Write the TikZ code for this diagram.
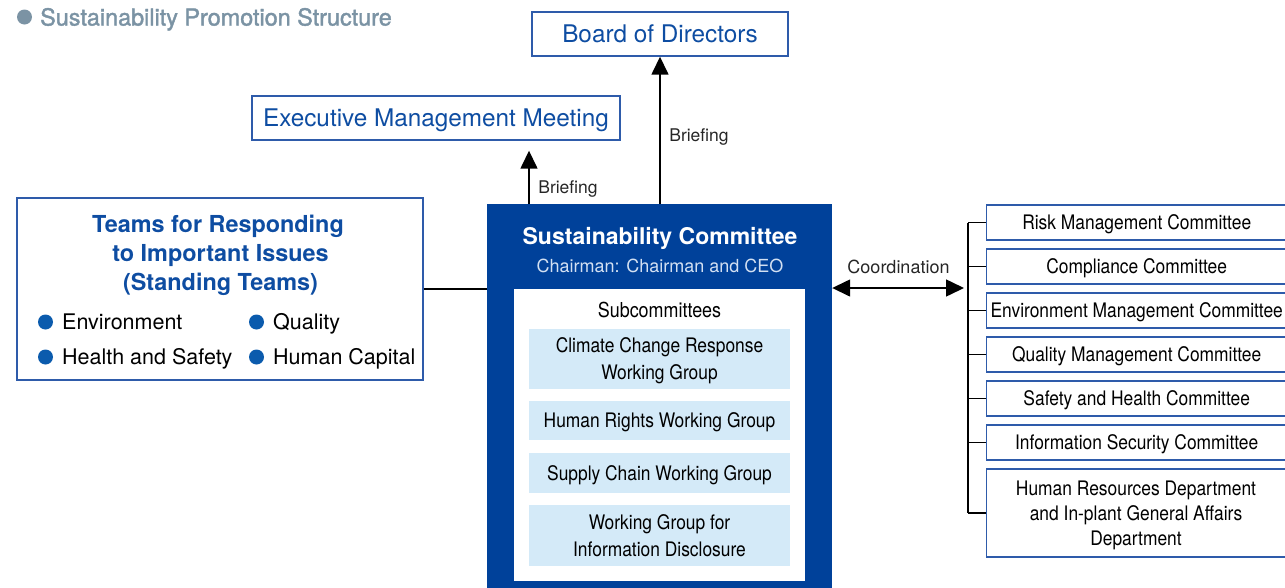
\documentclass[tikz,border=0pt]{standalone}
\usepackage{fontspec}
\setmainfont{TeX Gyre Heros}
\newfontfamily\cond[FakeStretch=0.87]{TeX Gyre Heros}
\newfontfamily\titlefont[FakeBold=1.6]{TeX Gyre Heros}
\usetikzlibrary{arrows.meta}
\definecolor{titlegray}{HTML}{7B93A4}
\definecolor{navy}{HTML}{00419A}
\definecolor{textblue}{HTML}{0E4DA2}
\definecolor{boxblue}{HTML}{2E5BAA}
\definecolor{paleblue}{HTML}{D4EAF8}
\definecolor{dotblue}{HTML}{0B5BAD}
\definecolor{subwhite}{HTML}{D3E0F2}
\begin{document}
\begin{tikzpicture}[x=1pt,y=-1pt,
  capc/.style={text height=#1,text depth=0pt,inner sep=0pt},
  topbox/.style={draw=boxblue,line width=1.4pt,fill=white,text=textblue,
    font=\fontsize{24.3pt}{28pt}\selectfont,capc=17.5pt},
  rbox/.style={draw=boxblue,line width=1.4pt,fill=white,anchor=west,
    minimum width=300pt,minimum height=35pt,font=\cond\fontsize{20pt}{25pt}\selectfont,capc=14.4pt},
  wgbox/.style={fill=paleblue,minimum width=261pt,inner sep=0pt},
  wgtext/.style={align=center,inner sep=0pt,font=\cond\fontsize{20pt}{27pt}\selectfont},
  conn/.style={line width=1.5pt,black},
  arr/.style={conn,-{Triangle[length=18pt,width=17pt]}},
  darr/.style={conn,{Triangle[length=18pt,width=17pt]}-{Triangle[length=18pt,width=17pt]}},
  lbl/.style={capc=12.6pt,font=\fontsize{17.5pt}{20pt}\selectfont,text=black!85},
  item/.style={capc=15.5pt,anchor=west,font=\fontsize{21.5pt}{25pt}\selectfont},
  dot/.style={circle,fill=dotblue,inner sep=0pt,minimum size=15pt}
]
\useasboundingbox (0,0) rectangle (1285,587);
\clip (0,0) rectangle (1285,587);

% title
\node[circle,fill=titlegray,inner sep=0pt,minimum size=15pt] (tdot) at (24.5,17) {};
\node[capc=17pt,anchor=west,text=titlegray,font=\titlefont\fontsize{23.4pt}{26pt}\selectfont] (title) at (40,17) {Sustainability Promotion Structure};

% top boxes
\node[topbox,minimum width=256pt,minimum height=44pt] (bod) at (660,34) {Board of Directors};
\node[topbox,minimum width=368pt,minimum height=44pt] (emm) at (436,118) {Executive Management Meeting};

% teams box
\node[draw=boxblue,line width=1.4pt,minimum width=406pt,minimum height=182pt,inner sep=0pt] (teams) at (220,289) {};
\node[align=center,text=textblue,font=\bfseries\fontsize{23.4pt}{29pt}\selectfont,inner sep=0pt] (teamst) at (218,255) {Teams for Responding\\ \hspace*{5pt}to Important Issues\\ \hspace*{5pt}(Standing Teams)};
\node[dot] (d1) at (45.5,322) {};
\node[dot] (d2) at (256.5,322) {};
\node[dot] (d3) at (45.5,357) {};
\node[dot] (d4) at (256.5,357) {};
\node[item] (i1) at (62,322) {Environment};
\node[item] (i2) at (273,322) {Quality};
\node[item] (i3) at (62,357) {Health and Safety};
\node[item] (i4) at (273,357) {Human Capital};

% sustainability committee
\node[fill=navy,minimum width=345pt,minimum height=400pt,anchor=north,inner sep=0pt] (sc) at (659.5,204) {};
\node[capc=16.5pt,text=white,font=\bfseries\fontsize{23pt}{26pt}\selectfont] (sct) at (660,236) {Sustainability Committee};
\node[capc=12.9pt,text=subwhite,font=\fontsize{18pt}{20pt}\selectfont] (scc) at (660,266) {Chairman: Chairman and CEO};
\node[fill=white,minimum width=291pt,minimum height=292pt,anchor=north,inner sep=0pt] (inner) at (659.5,289) {};
\node[capc=14.8pt,font=\cond\fontsize{20.6pt}{24pt}\selectfont] (subc) at (659.5,310) {Subcommittees};
\node[wgbox,minimum height=60pt] (wg1) at (659.5,359) {};
\node[wgtext] (wg1t) at (659.5,360.5) {Climate Change Response\\Working Group};
\node[wgbox,minimum height=39pt,capc=14.4pt,font=\cond\fontsize{20pt}{24pt}\selectfont] (wg2) at (659.5,420.5) {Human Rights Working Group};
\node[wgbox,minimum height=40pt,capc=14.4pt,font=\cond\fontsize{20pt}{24pt}\selectfont] (wg3) at (659.5,473) {Supply Chain Working Group};
\node[wgbox,minimum height=61pt] (wg4) at (659.5,535.5) {};
\node[wgtext] (wg4t) at (659.5,535.5) {Working Group for\\Information Disclosure};

% right boxes
\node[rbox] (r1) at (986,222.5) {Risk Management Committee};
\node[rbox] (r2) at (986,266.5) {Compliance Committee};
\node[rbox] (r3) at (986,310.5) {Environment Management Committee};
\node[rbox] (r4) at (986,354.5) {Quality Management Committee};
\node[rbox] (r5) at (986,398.5) {Safety and Health Committee};
\node[rbox] (r6) at (986,442.5) {Information Security Committee};
\node[rbox,minimum height=88pt] (r7) at (986,513) {};
\node[align=center,inner sep=0pt,font=\cond\fontsize{20pt}{25pt}\selectfont] (r7t) at (1136,515.5) {Human Resources Department\\and In-plant General Affairs\\Department};

% connectors
\draw[conn] (teams.east) -- (teams.east -| sc.west);
\coordinate (ea) at (529,0);
\draw[arr,shorten >=10pt] (ea |- sc.north) -- (ea |- emm.south);
\draw[arr] (bod.south |- sc.north) -- (bod.south);
\node[lbl] (b1) at (568,187) {Briefing};
\node[lbl] (b2) at (699,135) {Briefing};
\coordinate (bx) at (968,288);
\draw[darr] (bx -| sc.east) -- ([xshift=-4pt]bx);
\node[lbl,capc=12.9pt,font=\fontsize{18pt}{20pt}\selectfont] (coord) at (898.5,267) {Coordination};
\draw[conn,line width=1.3pt] (bx |- r1.west) -- (bx |- r7.west);
\foreach \r in {r1,r2,r3,r4,r5,r6,r7}{
  \draw[conn,line width=1.3pt] (bx |- \r.west) -- (\r.west);
}
\end{tikzpicture}
\end{document}
